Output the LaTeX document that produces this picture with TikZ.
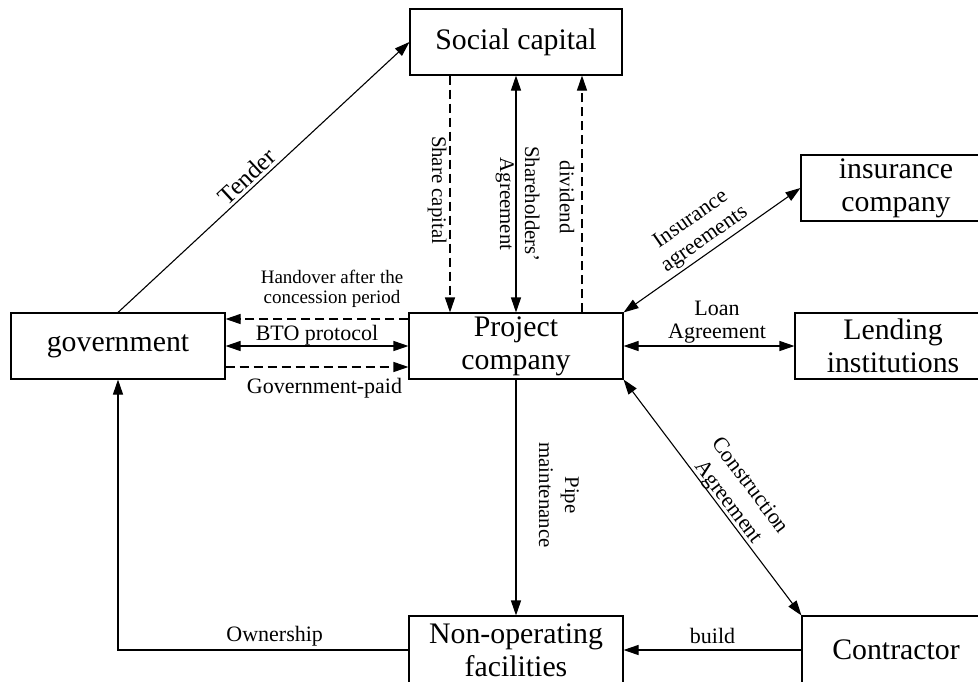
\documentclass[tikz,border=0pt]{standalone}
\usepackage{fontspec}
\setmainfont{Liberation Serif}
\usetikzlibrary{arrows.meta}
\begin{document}
\begin{tikzpicture}[x=1pt,y=-1pt,
  box/.style={draw, line width=1.1pt, minimum width=214pt, minimum height=66pt, inner sep=0pt, align=center, font=\fontsize{29.8}{33}\selectfont},
  lbl/.style={inner sep=0pt, align=center, font=\fontsize{22}{23}\selectfont},
  vlbl/.style={inner sep=0pt, align=center, font=\fontsize{20.8}{25}\selectfont},
  sml/.style={inner sep=0pt, align=center, font=\fontsize{19}{20.5}\selectfont},
  oneway/.style={line width=1.1pt, -{Triangle[length=15pt,width=10pt]}},
  twoway/.style={line width=1.1pt, {Triangle[length=15pt,width=10pt]}-{Triangle[length=15pt,width=10pt]}},
  dsh/.style={dash pattern=on 9pt off 5pt}
]
\useasboundingbox (0,0) rectangle (978,681);
\clip (0,0) rectangle (978,681);

\node[box, minimum width=212pt] (soc) at (516,42) {Social capital};
\node[box] (proj) at (516,346) {Project\\company};
\node[box] (gov) at (118,346) {government};
\node[box, minimum width=190pt] (ins) at (896,188) {insurance\\company};
\node[box, minimum width=196pt] (lend) at (893,346) {Lending\\institutions};
\node[box, minimum height=68pt] (nonop) at (516,650) {Non-operating\\facilities};
\node[box, minimum width=188pt, minimum height=68pt] (contr) at (896,650) {Contractor};

% Tender
\draw[oneway] (gov.north) -- (soc.west) node[lbl, pos=0.47, sloped, above=3pt, font=\fontsize{25}{26}\selectfont] {Tender};

% Social capital links
\draw[oneway,dsh] ([xshift=-66pt]soc.south) -- ([xshift=-66pt]proj.north)
  node[vlbl, midway, xshift=-13pt, yshift=4pt, rotate=-90] {Share capital};
\draw[twoway] (soc.south) -- (proj.north)
  node[vlbl, midway, xshift=1.5pt, yshift=-10pt, rotate=-90] {Shareholders'\\Agreement};
\draw[oneway,dsh] ([xshift=66pt]proj.north) -- ([xshift=66pt]soc.south)
  node[vlbl, midway, xshift=-15pt, yshift=-3pt, rotate=-90] {dividend};

% Government links
\draw[oneway,dsh] ([yshift=27pt]proj.west) -- ([yshift=27pt]gov.east)
  node[sml, midway, xshift=15pt, yshift=30pt] {Handover after the\\concession period};
\draw[twoway] (gov.east) -- (proj.west)
  node[lbl, midway, yshift=11pt] {BTO protocol};
\draw[oneway,dsh] ([yshift=-21pt]gov.east) -- ([yshift=-21pt]proj.west)
  node[lbl, midway, xshift=7.5pt, yshift=-21pt] {Government-paid};

% Right side
\draw[twoway] (proj.north east) -- (ins.west)
  node[lbl, midway, xshift=-14pt, yshift=20.5pt, rotate=35, font=\fontsize{22}{24}\selectfont] {Insurance\\agreements};
\draw[twoway] (proj.east) -- (lend.west)
  node[lbl, midway, xshift=8pt, yshift=24pt] {Loan\\Agreement};
\draw[twoway] (proj.south east) -- (contr.north west)
  node[lbl, midway, xshift=26pt, yshift=3pt, rotate=-53, font=\fontsize{22}{27}\selectfont] {Construction\\Agreement};

% Bottom
\draw[oneway] (proj.south) -- (nonop.north)
  node[vlbl, midway, xshift=43pt, yshift=2.5pt, rotate=-90, font=\fontsize{20.8}{26}\selectfont] {Pipe\\maintenance};
\draw[oneway] (contr.west) -- (nonop.east)
  node[lbl, midway, yshift=14pt] {build};
\draw[oneway] (nonop.west) -| (gov.south)
  node[lbl, pos=0.25, xshift=11.5pt, yshift=14pt] {Ownership};
\end{tikzpicture}
\end{document}
